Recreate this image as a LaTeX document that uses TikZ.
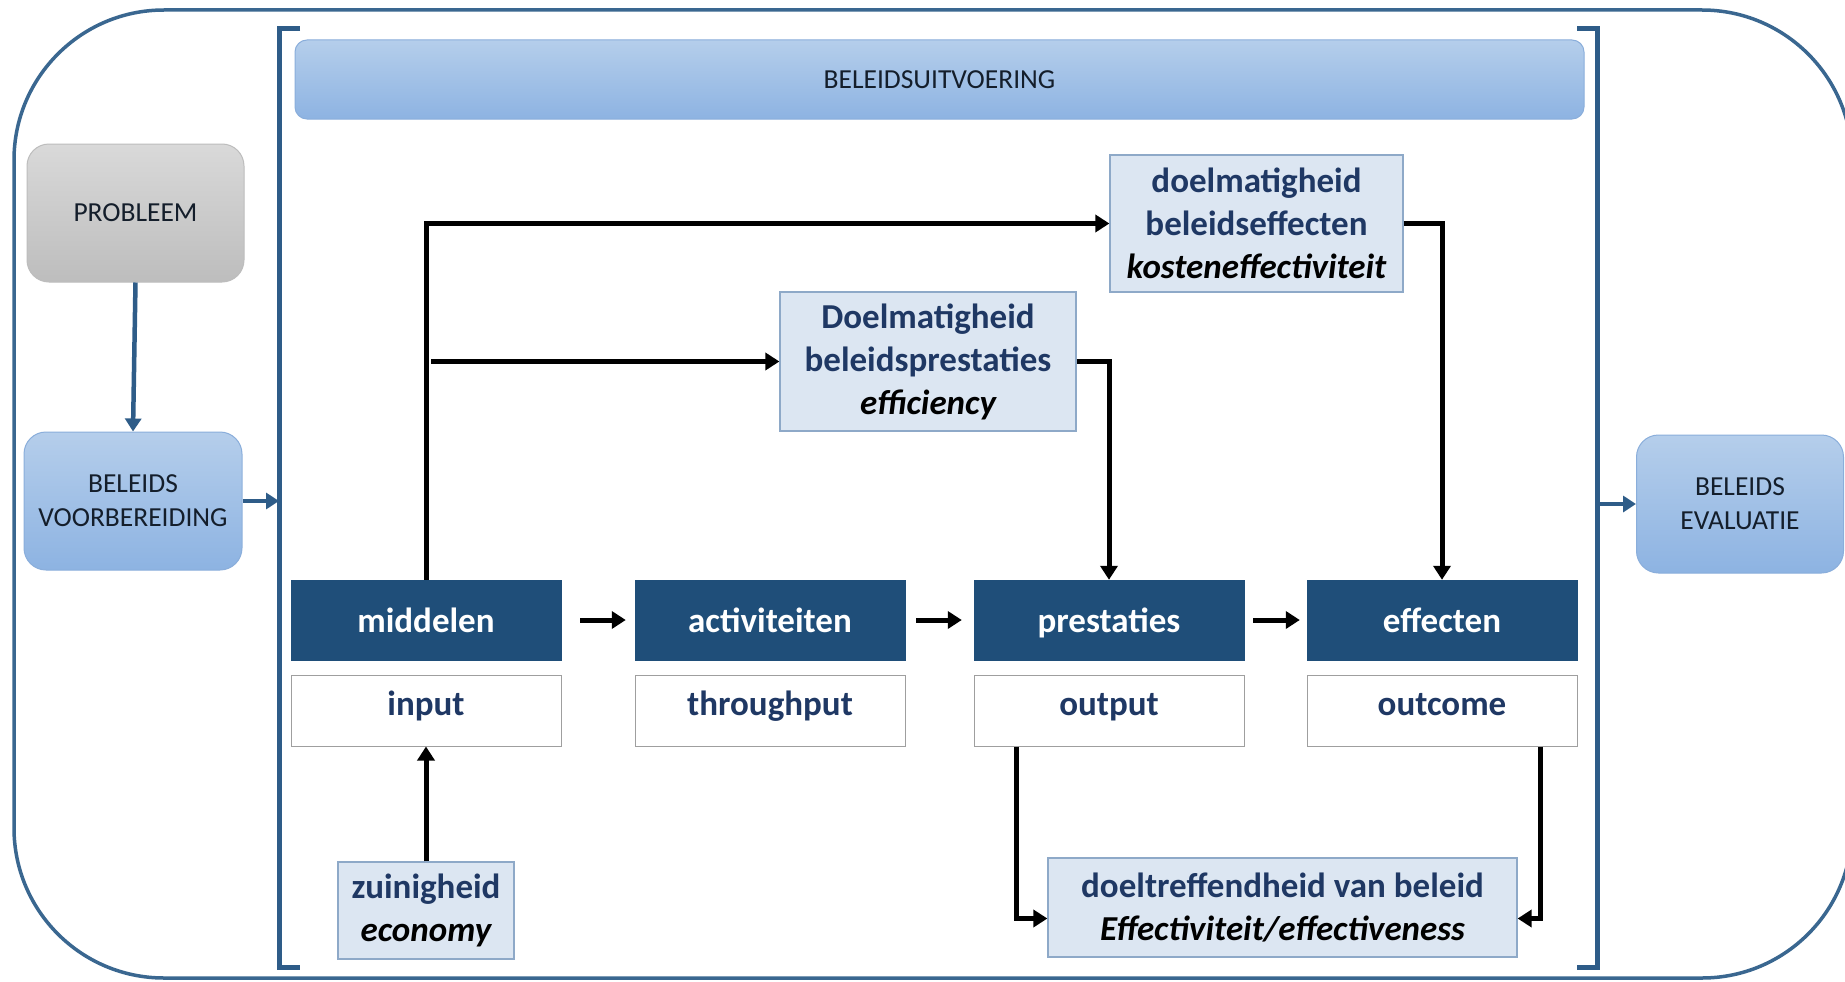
\documentclass[tikz,border=0pt]{standalone}
\usepackage{fontspec}
\setmainfont{Carlito}
\usetikzlibrary{arrows.meta,calc}
\definecolor{outerc}{HTML}{3A6790}
\definecolor{brackc}{HTML}{2E5C88}
\definecolor{dkblue}{HTML}{1F4E79}
\definecolor{txtblue}{HTML}{1F3864}
\definecolor{ltfill}{HTML}{DCE6F2}
\definecolor{ltdraw}{HTML}{8EA9C8}
\definecolor{gtop}{HTML}{B5CEEB}
\definecolor{gbot}{HTML}{8DB3E2}
\definecolor{gdraw}{HTML}{8AAEDB}
\definecolor{ptop}{HTML}{D9D9D9}
\definecolor{pbot}{HTML}{BDBDBD}
\definecolor{gtxt}{HTML}{141E2B}
\begin{document}
\begin{tikzpicture}[x=1pt,y=-1pt,
  bigf/.style={font=\fontsize{35}{43}\selectfont\bfseries},
  capf/.style={font=\fontsize{27.5}{34}\selectfont},
  darkbox/.style={bigf, fill=dkblue, draw=dkblue, text=white, minimum width=270pt, minimum height=80pt, inner sep=0pt, text height=28.5pt, text depth=4.5pt},
  whitebox/.style={bigf, fill=white, draw=gray!75, line width=1pt, text=txtblue, minimum width=270pt, minimum height=71pt, inner sep=0pt, text height=21.5pt, text depth=11.5pt},
  lightbox/.style={bigf, fill=ltfill, draw=ltdraw, line width=1.2pt, text=txtblue, align=center, inner sep=0pt},
  gradbox/.style={capf, rounded corners=22pt, top color=gtop, bottom color=gbot, draw=gdraw, line width=1pt, text=gtxt, align=center, inner sep=0pt},
  graybox/.style={capf, rounded corners=22pt, top color=ptop, bottom color=pbot, draw=pbot, line width=1pt, text=gtxt, align=center, inner sep=0pt},
  blkarrow/.style={draw=black, line width=5pt, -{Triangle[length=14pt,width=17pt]}},
  bluarrow/.style={draw=brackc, line width=4.5pt, -{Triangle[length=13pt,width=16pt]}},
  bracket/.style={draw=brackc, line width=5pt}]
\useasboundingbox (0,0) rectangle (1845,982);
\fill[white] (0,0) rectangle (1845,982);
% outer frame
\draw[outerc, line width=3.5pt, rounded corners=150pt] (14,10) rectangle (1852,978);
% brackets
\draw[bracket] (300,29) -- (279,29) -- (279,967) -- (300,967);
\draw[bracket] (1577,29) -- (1597,29) -- (1597,967) -- (1577,967);
\coordinate (lbr) at (279,500);
\coordinate (rbr) at (1597,504);
% top bar
\node[gradbox, rounded corners=12pt, minimum width=1289pt, minimum height=79pt] (bar) at (939.5,79.5) {BELEIDSUITVOERING};
% left column
\node[graybox, minimum width=217pt, minimum height=138pt] (prob) at (135.5,213) {PROBLEEM};
\node[gradbox, minimum width=218pt, minimum height=138pt] (bv) at (133,501) {BELEIDS\\VOORBEREIDING};
\node[gradbox, minimum width=207pt, minimum height=138pt] (be) at (1740,504) {BELEIDS\\EVALUATIE};
% main chain
\node[darkbox] (mid) at (426,620) {middelen};
\node[darkbox] (act) at (770,620) {activiteiten};
\node[darkbox] (pre) at (1109,620) {prestaties};
\node[darkbox] (eff) at (1442,620) {effecten};
\node[whitebox] (inp) at (426,710.5) {input};
\node[whitebox] (thr) at (770,710.5) {throughput};
\node[whitebox] (out) at (1109,710.5) {output};
\node[whitebox] (oc) at (1442,710.5) {outcome};
% evaluation boxes
\node[lightbox, minimum width=293pt, minimum height=137pt] (ke) at (1256.5,223.5) {doelmatigheid\\beleidseffecten\\\textcolor{black}{\itshape kosteneffectiviteit}};
\node[lightbox, minimum width=296pt, minimum height=139pt] (ef) at (928,361.5) {Doelmatigheid\\beleidsprestaties\\\textcolor{black}{\itshape efficiency}};
\node[lightbox, minimum width=176pt, minimum height=97pt] (zu) at (426,910.5) {zuinigheid\\\textcolor{black}{\itshape economy}};
\node[lightbox, minimum width=469pt, minimum height=99pt] (dt) at (1282.5,907.5) {doeltreffendheid van beleid\\\textcolor{black}{\itshape Effectiviteit/effectiveness}};
% blue arrows
\draw[bluarrow] (prob.south) -- (bv.north);
\draw[bluarrow] (bv.east) -- (bv.east -| lbr);
\draw[bluarrow] (rbr) -- (be.west |- rbr);
% black arrows
\draw[blkarrow] (mid.north) |- (ke.west);
\coordinate (j1) at ([xshift=5pt]mid.north |- ef.west);
\draw[blkarrow] (j1) -- (ef.west);
\draw[blkarrow] (ke.east) -| (eff.north);
\draw[blkarrow] (ef.east) -| (pre.north);
\draw[blkarrow, shorten <=19pt, shorten >=9pt] (mid) -- (act);
\draw[blkarrow, shorten <=11pt, shorten >=12pt] (act) -- (pre);
\draw[blkarrow, shorten <=9pt, shorten >=7pt] (pre) -- (eff);
\draw[blkarrow] (zu.north) -- (inp.south);
\coordinate (o1) at ([xshift=43pt]out.south west);
\coordinate (o2) at ([xshift=-37pt]oc.south east);
\draw[blkarrow] (o1) |- ([yshift=-11pt]dt.west);
\draw[blkarrow] (o2) |- ([yshift=-11pt]dt.east);
\end{tikzpicture}
\end{document}
